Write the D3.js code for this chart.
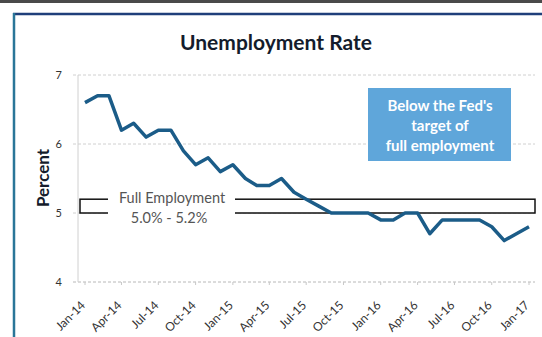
<!DOCTYPE html>
<html>
<head>
<meta charset="utf-8">
<script src="https://cdn.jsdelivr.net/npm/d3@7"></script>
<style>
  body { margin: 0; background: #fff; }
  text { font-family: Lato, "Open Sans", sans-serif; }
</style>
</head>
<body>
<div id="chart"></div>
<script>
var W = 542, H = 337;

// monthly unemployment rate, Jan-14 .. Jan-17
var months = ["Jan-14","Feb-14","Mar-14","Apr-14","May-14","Jun-14","Jul-14","Aug-14","Sep-14","Oct-14","Nov-14","Dec-14",
              "Jan-15","Feb-15","Mar-15","Apr-15","May-15","Jun-15","Jul-15","Aug-15","Sep-15","Oct-15","Nov-15","Dec-15",
              "Jan-16","Feb-16","Mar-16","Apr-16","May-16","Jun-16","Jul-16","Aug-16","Sep-16","Oct-16","Nov-16","Dec-16",
              "Jan-17"];
var rates = [6.6, 6.7, 6.7, 6.2, 6.3, 6.1, 6.2, 6.2, 5.9, 5.7, 5.8, 5.6,
             5.7, 5.5, 5.4, 5.4, 5.5, 5.3, 5.2, 5.1, 5.0, 5.0, 5.0, 5.0,
             4.9, 4.9, 5.0, 5.0, 4.7, 4.9, 4.9, 4.9, 4.9, 4.8, 4.6, 4.7,
             4.8];
var yTicks = [4, 5, 6, 7];
var fullEmp = [5.0, 5.2];
var noteLines = ["Below the Fed's", "target of", "full employment"];

var parseMonth = d3.timeParse("%b-%y");
var data = months.map(function (m, i) {
    return { date: parseMonth(m), rate: rates[i] };
});

var svg = d3.select("#chart").append("svg")
    .attr("width", W)
    .attr("height", H);

// slide frame
svg.append("rect").attr("x", 0).attr("y", 0).attr("width", W).attr("height", 3).attr("fill", "#4a4a4a");
svg.append("line").attr("x1", 13).attr("x2", W).attr("y1", 14).attr("y2", 14)
    .attr("stroke", "#1f3f7a").attr("stroke-width", 2.5);
svg.append("line").attr("x1", 14).attr("x2", 14).attr("y1", 13).attr("y2", H)
    .attr("stroke", "#2a7698").attr("stroke-width", 2.5);

var x = d3.scaleTime()
    .domain(d3.extent(data, (d) => d.date))
    .range([85, 529]);
var y = d3.scaleLinear()
    .domain([4, 7])
    .range([282, 75]);

// title
svg.append("text")
    .attr("x", 276).attr("y", 50)
    .attr("text-anchor", "middle")
    .attr("font-size", 21).attr("font-weight", "bold")
    .attr("fill", "#141c2c")
    .text("Unemployment Rate");

// gridlines
svg.selectAll(".grid").data(yTicks).enter()
    .append("line")
    .attr("class", "grid")
    .attr("x1", 73).attr("x2", 535)
    .attr("y1", (d) => y(d)).attr("y2", (d) => y(d))
    .attr("stroke", (d) => d == 4 ? "#b8b8b8" : "#d0d0d0")
    .attr("stroke-dasharray", "3,2");

svg.append("line")
    .attr("x1", 78).attr("x2", 78)
    .attr("y1", y(7)).attr("y2", y(4))
    .attr("stroke", "#d0d0d0");

// y axis labels
svg.selectAll(".ylab").data(yTicks).enter()
    .append("text")
    .attr("class", "ylab")
    .attr("x", 62).attr("y", (d) => y(d) + 4)
    .attr("text-anchor", "end")
    .attr("font-size", 11).attr("fill", "#333")
    .text((d) => d);

svg.append("text")
    .attr("transform", "translate(49," + 178 + ") rotate(-90)")
    .attr("text-anchor", "middle")
    .attr("font-size", 17).attr("font-weight", "bold")
    .attr("fill", "#141c2c")
    .text("Percent");

// x axis labels, every 3 months
var xTicks = data.filter((d, i) => i % 3 == 0).map((d) => d.date);
var fmt = d3.timeFormat("%b-%y");
svg.selectAll(".xtick").data(xTicks).enter()
    .append("line")
    .attr("class", "xtick")
    .attr("x1", (d) => x(d)).attr("x2", (d) => x(d))
    .attr("y1", y(4)).attr("y2", y(4) + 3)
    .attr("stroke", "#c8c8c8");
svg.selectAll(".xlab").data(xTicks).enter()
    .append("text")
    .attr("class", "xlab")
    .attr("transform", (d) => "translate(" + (x(d) + 1) + "," + 306 + ") rotate(-45)")
    .attr("text-anchor", "end")
    .attr("font-size", 12).attr("fill", "#333")
    .text((d) => fmt(d));

// full employment band
var bx0 = 80, bx1 = 535;
svg.append("rect")
    .attr("x", bx0).attr("y", y(fullEmp[1]))
    .attr("width", bx1 - bx0).attr("height", y(fullEmp[0]) - y(fullEmp[1]))
    .attr("fill", "#fff")
    .attr("stroke", "#111").attr("stroke-width", 1.5);

// data line
svg.append("path")
    .datum(data)
    .attr("fill", "none")
    .attr("stroke", "#1b5c88")
    .attr("stroke-width", 3.5)
    .attr("stroke-linejoin", "round")
    .attr("d", d3.line().x((d) => x(d.date)).y((d) => y(d.rate)));

// label over band border
svg.append("rect")
    .attr("x", 108).attr("y", y(fullEmp[1]) - 2)
    .attr("width", 127).attr("height", y(fullEmp[0]) - y(fullEmp[1]) + 4)
    .attr("fill", "#fff");
svg.append("text")
    .attr("x", 172).attr("y", y(fullEmp[1]) + 4)
    .attr("text-anchor", "middle")
    .attr("font-size", 14.5).attr("fill", "#555")
    .text("Full Employment");
svg.append("text")
    .attr("x", 169).attr("y", y(fullEmp[0]) + 10)
    .attr("text-anchor", "middle")
    .attr("font-size", 14.5).attr("fill", "#555")
    .text(fullEmp[0].toFixed(1) + "% - " + fullEmp[1].toFixed(1) + "%");

// note box
svg.append("rect")
    .attr("x", 368).attr("y", 88)
    .attr("width", 143).attr("height", 73)
    .attr("fill", "#5fa6da");
svg.selectAll(".note").data(noteLines).enter()
    .append("text")
    .attr("class", "note")
    .attr("x", 440).attr("y", (d, i) => 111 + i * 20)
    .attr("text-anchor", "middle")
    .attr("font-size", 15).attr("font-weight", "bold")
    .attr("fill", "#fff")
    .text((d) => d);
</script>
</body>
</html>
